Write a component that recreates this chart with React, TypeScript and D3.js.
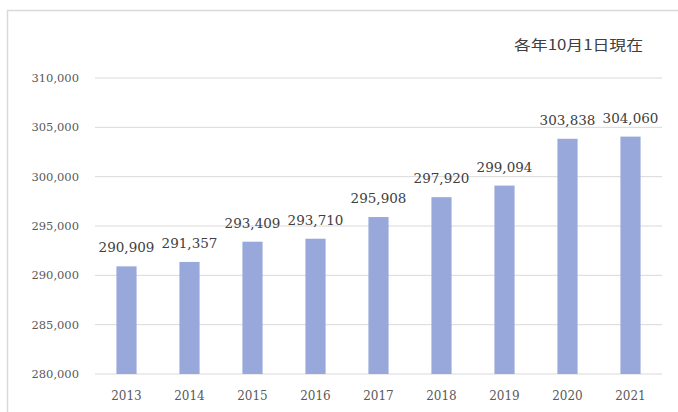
import React from "react";
import * as d3 from "d3";

const years = ["2013", "2014", "2015", "2016", "2017", "2018", "2019", "2020", "2021"];
const population = [290909, 291357, 293409, 293710, 295908, 297920, 299094, 303838, 304060];
const yTicks = [280000, 285000, 290000, 295000, 300000, 305000, 310000];
const note = "各年10月1日現在";

const W = 678;
const H = 412;
const NUM_FONT = "'DejaVu Serif', serif";
const JP_FONT = "'Noto Sans CJK JP', 'Noto Sans', sans-serif";

export default function App() {
  const left = 95;
  const right = 662;
  const x = d3.scaleBand<string>().domain(years).range([left, right]).paddingInner(0.68).paddingOuter(0.34);
  const y = d3.scaleLinear().domain([280000, 310000]).range([374, 78]);
  const fmt = d3.format(",");

  return (
    <svg width={W} height={H} style={{ position: "absolute", left: 0, top: 0, background: "#fff" }}>
      <rect x={7.5} y={10.5} width={680} height={420} fill="#fff" stroke="#d9d9d9" strokeWidth={1.5} />
      {yTicks.map((t) => (
        <g key={t}>
          <line x1={left} x2={right} y1={y(t)} y2={y(t)} stroke="#d9d9d9" strokeWidth={1} />
          <text x={79} y={y(t)} dy="0.35em" textAnchor="end" fontSize={11.5} fill="#595959" fontFamily={NUM_FONT}>
            {fmt(t)}
          </text>
        </g>
      ))}
      {years.map((yr, i) => (
        <g key={yr}>
          <rect
            x={x(yr)!}
            y={y(population[i])}
            width={x.bandwidth()}
            height={y(280000) - y(population[i])}
            fill="#98A8DA"
          />
          <text
            x={x(yr)! + x.bandwidth() / 2}
            y={y(population[i]) - 14}
            textAnchor="middle"
            fontSize={13.5}
            fill="#404040"
            fontFamily={NUM_FONT}
          >
            {fmt(population[i])}
          </text>
          <text
            x={x(yr)! + x.bandwidth() / 2}
            y={396}
            dy="0.35em"
            textAnchor="middle"
            fontSize={12}
            fill="#595959"
            fontFamily={NUM_FONT}
          >
            {yr}
          </text>
        </g>
      ))}
      <text x={643} y={45} dy="0.35em" textAnchor="end" fontSize={14} fill="#404040" fontFamily={JP_FONT}
        textLength={129} lengthAdjust="spacingAndGlyphs">
        {note}
      </text>
    </svg>
  );
}
